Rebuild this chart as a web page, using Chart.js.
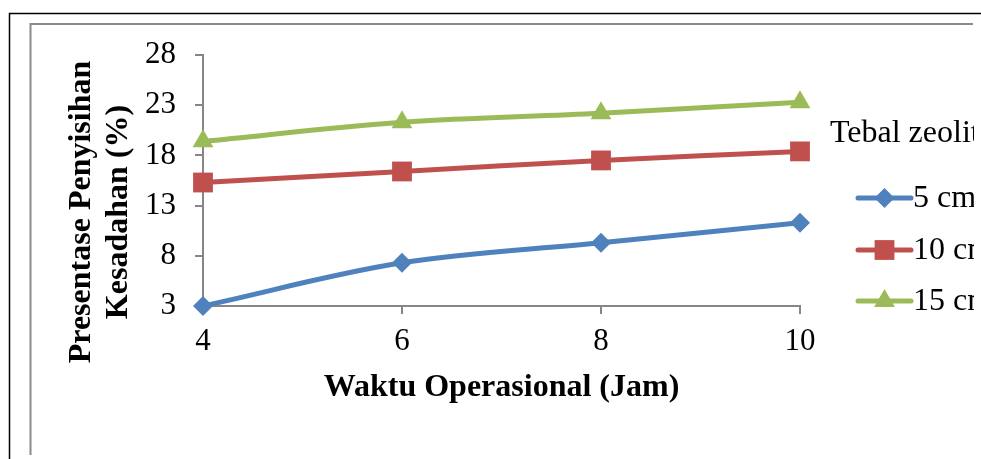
<!DOCTYPE html>
<html>
<head>
<meta charset="utf-8">
<script src="https://cdn.jsdelivr.net/npm/chart.js@4/dist/chart.umd.min.js"></script>
<style>
  html, body { margin: 0; padding: 0; background: #fff; }
  #wrap { width: 981px; height: 459px; position: relative; }
</style>
</head>
<body>
<div id="wrap"><canvas id="c" width="981" height="459"></canvas></div>
<script>
// Operating time (hours) on the x axis
const hours = [4, 6, 8, 10];
// Hardness removal (%) for each zeolite bed thickness
const zeolite5 = [3.0, 7.3, 9.3, 11.3];
const zeolite10 = [15.3, 16.4, 17.5, 18.4];
const zeolite15 = [19.4, 21.3, 22.2, 23.3];
const seriesNames = ['5 cm', '10 cm', '15 cm'];
const legendTitle = 'Tebal zeolit';
const xTitle = 'Waktu Operasional (Jam)';
const yTitleLines = ['Presentase Penyisihan', 'Kesadahan (%)'];
const yTickValues = [3, 8, 13, 18, 23, 28];
const xTickValues = [4, 6, 8, 10];

const SERIF = '"Liberation Serif", "Times New Roman", serif';
const AXIS_GRAY = '#868686';
const colors = ['#4F81BD', '#C0504D', '#9BBB59'];
const styles = ['rectRot', 'rect', 'triangle'];
const radii = [10, 14, 12];

function toPoints(values) {
  return hours.map((h, i) => ({ x: h, y: values[i] }));
}

const seriesValues = [zeolite5, zeolite10, zeolite15];
const datasets = seriesValues.map((vals, i) => ({
  label: seriesNames[i],
  data: toPoints(vals),
  borderColor: colors[i],
  backgroundColor: colors[i],
  borderWidth: 5,
  pointStyle: styles[i],
  pointRadius: radii[i],
  pointHoverRadius: radii[i],
  pointBorderWidth: 0,
  pointBackgroundColor: colors[i],
  tension: 0.35,
  clip: false
}));

// Marker shape used inside the legend
function drawMarker(ctx, style, r, x, y, color) {
  ctx.save();
  ctx.fillStyle = color;
  ctx.beginPath();
  if (style === 'rectRot') {
    ctx.moveTo(x, y - r); ctx.lineTo(x + r, y); ctx.lineTo(x, y + r); ctx.lineTo(x - r, y);
  } else if (style === 'rect') {
    const s = r * Math.SQRT1_2;
    ctx.rect(x - s, y - s, 2 * s, 2 * s);
  } else {
    const h = Math.sqrt(3) / 2 * r;
    ctx.moveTo(x, y - r); ctx.lineTo(x + h, y + r / 2); ctx.lineTo(x - h, y + r / 2);
  }
  ctx.closePath();
  ctx.fill();
  ctx.restore();
}

const framePlugin = {
  id: 'frame',
  beforeDraw(chart) {
    const ctx = chart.ctx;
    ctx.save();
    ctx.fillStyle = '#fff';
    ctx.fillRect(0, 0, chart.width, chart.height);
    // outer border
    ctx.strokeStyle = '#000';
    ctx.lineWidth = 1.5;
    ctx.beginPath();
    ctx.moveTo(9.5, 459); ctx.lineTo(9.5, 13.5); ctx.lineTo(981, 13.5);
    ctx.stroke();
    // chart area border
    ctx.strokeStyle = '#8a8a8a';
    ctx.lineWidth = 2;
    ctx.beginPath();
    ctx.moveTo(30.5, 455); ctx.lineTo(30.5, 24); ctx.lineTo(973, 24);
    ctx.stroke();
    ctx.restore();
  }
};

const titlesPlugin = {
  id: 'yTitle',
  afterDraw(chart) {
    const ctx = chart.ctx;
    ctx.save();
    ctx.fillStyle = '#000';
    ctx.font = 'bold 32px ' + SERIF;
    ctx.textAlign = 'center';
    ctx.textBaseline = 'middle';
    const xs = [82, 119];
    yTitleLines.forEach((t, i) => {
      ctx.save();
      ctx.translate(xs[i], 212);
      ctx.rotate(-Math.PI / 2);
      ctx.fillText(t, 0, 0);
      ctx.restore();
    });
    ctx.restore();
  }
};

const legendPlugin = {
  id: 'sideLegend',
  afterDraw(chart) {
    const ctx = chart.ctx;
    ctx.save();
    ctx.fillStyle = '#000';
    ctx.font = '32px ' + SERIF;
    ctx.textAlign = 'left';
    ctx.textBaseline = 'alphabetic';
    ctx.fillText(legendTitle, 830, 142);
    const rows = [198, 250, 301];
    chart.data.datasets.forEach((ds, i) => {
      const y = rows[i];
      ctx.strokeStyle = ds.borderColor;
      ctx.lineWidth = 5;
      ctx.lineCap = 'round';
      ctx.beginPath();
      ctx.moveTo(858, y); ctx.lineTo(911, y);
      ctx.stroke();
      drawMarker(ctx, ds.pointStyle, ds.pointRadius, 884.5, y, ds.borderColor);
      ctx.fillStyle = '#000';
      ctx.textBaseline = 'middle';
      ctx.fillText(ds.label, 913, y + 1);
    });
    // the chart frame ends at its right edge
    ctx.fillStyle = '#fff';
    ctx.fillRect(974, 15, 7, 444);
    ctx.restore();
  }
};

new Chart(document.getElementById('c'), {
  type: 'line',
  data: { datasets },
  plugins: [framePlugin, titlesPlugin, legendPlugin],
  options: {
    responsive: false,
    animation: false,
    devicePixelRatio: 1,
    layout: { padding: { top: 55, right: 181, bottom: 0, left: 0 } },
    plugins: { legend: { display: false }, tooltip: { enabled: false } },
    scales: {
      x: {
        type: 'linear',
        min: 4,
        max: 10,
        afterBuildTicks(scale) { scale.ticks = xTickValues.map(v => ({ value: v })); },
        afterFit(scale) { scale.height = 153; },
        border: { display: true, color: AXIS_GRAY, width: 2 },
        grid: { display: true, drawOnChartArea: false, drawTicks: true, tickLength: 8, color: AXIS_GRAY, lineWidth: 2 },
        ticks: { color: '#000', font: { family: SERIF, size: 31 }, padding: 9, maxRotation: 0 },
        title: {
          display: true,
          text: xTitle,
          color: '#000',
          font: { family: SERIF, size: 32, weight: 'bold' },
          padding: { top: 0, bottom: 52 }
        }
      },
      y: {
        type: 'linear',
        min: 3,
        max: 28,
        afterBuildTicks(scale) { scale.ticks = yTickValues.map(v => ({ value: v })); },
        afterFit(scale) { scale.width = 203; },
        border: { display: true, color: AXIS_GRAY, width: 2 },
        grid: { display: true, drawOnChartArea: false, drawTicks: true, tickLength: 8, color: AXIS_GRAY, lineWidth: 2 },
        ticks: { color: '#000', font: { family: SERIF, size: 31 }, padding: 19 }
      }
    }
  }
});
</script>
</body>
</html>
